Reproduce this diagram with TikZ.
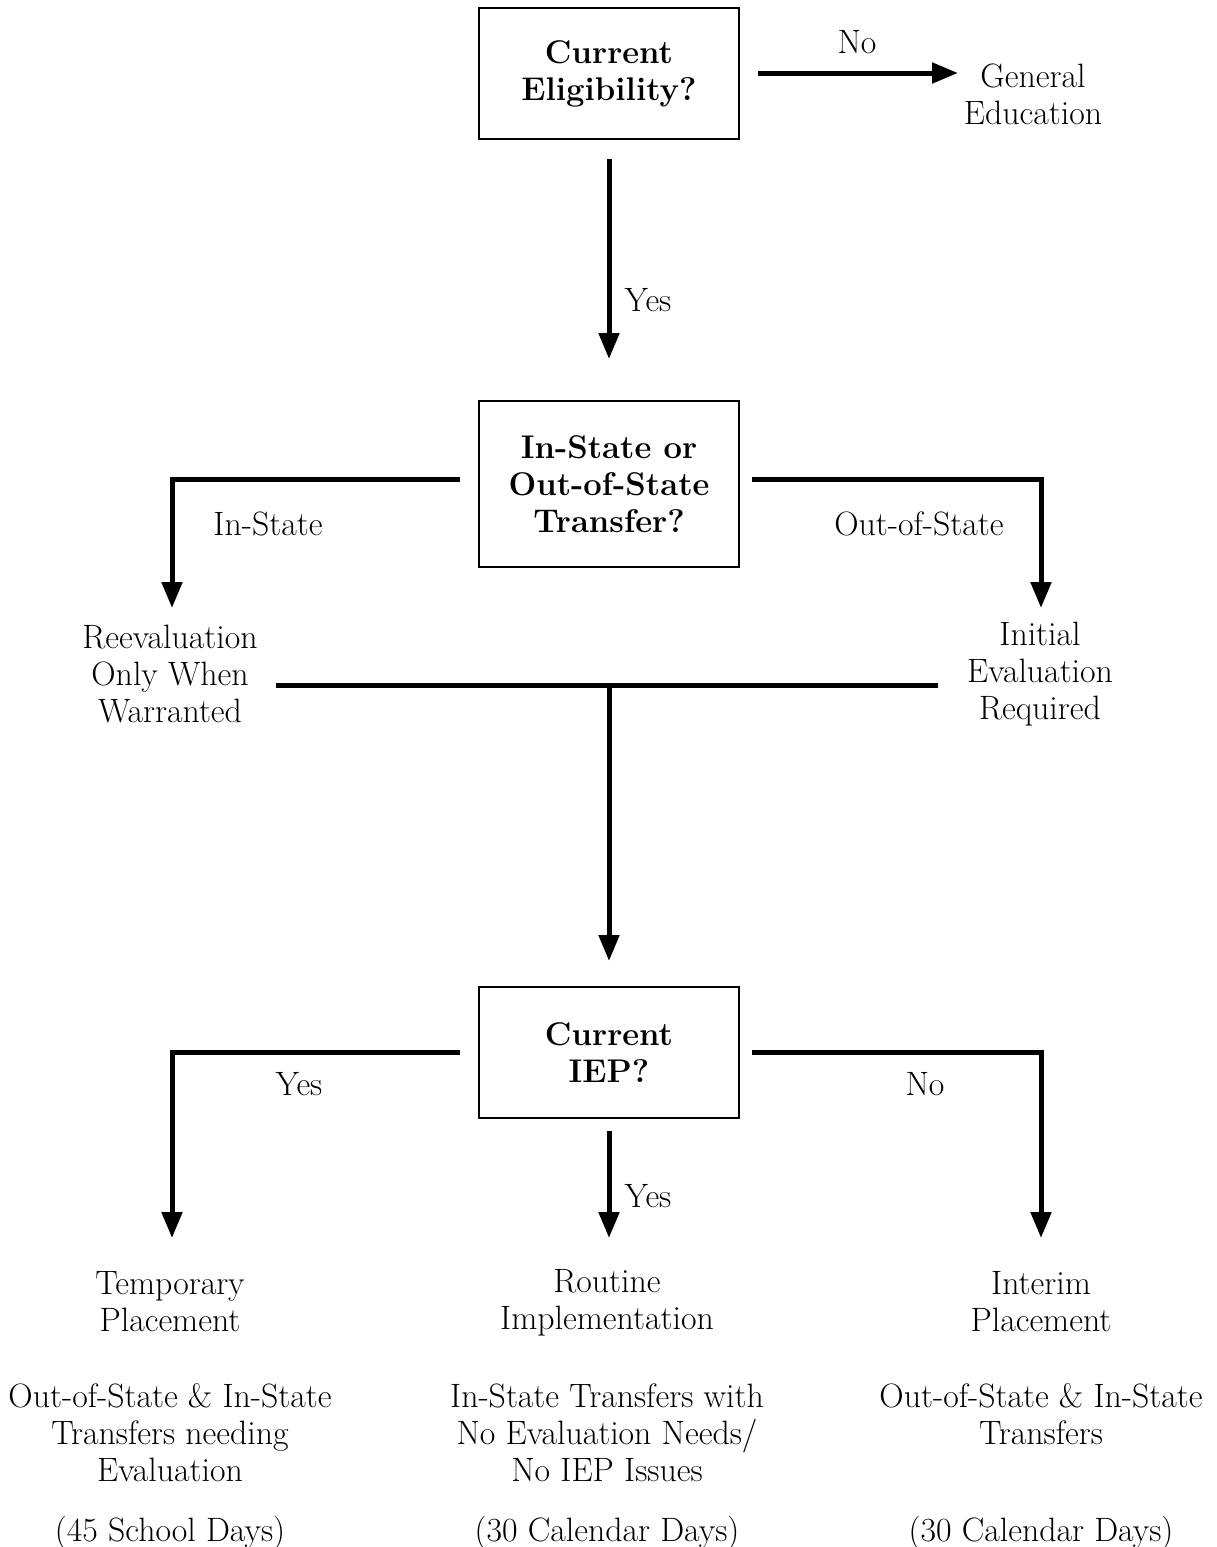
\documentclass[tikz,border=0pt]{standalone}
\usetikzlibrary{arrows.meta}
\begin{document}
\begin{tikzpicture}[x=0.5pt,y=-0.5pt,
  txt/.style={align=center,inner sep=0pt,font=\fontsize{16.9}{18.5}\selectfont},
  qbox/.style={draw,line width=1pt,minimum width=130pt,minimum height=65.5pt,align=center,inner sep=0pt,font=\fontsize{16.4}{18.5}\selectfont\bfseries},
  arr/.style={line width=2.5pt,-{Triangle[length=13pt,width=10pt]}},
  bar/.style={line width=2.5pt}]
\useasboundingbox (0,0) rectangle (1216,1547);
% boxes
\node[qbox] (b1) at (609,73.5) {Current\\Eligibility?};
\node[qbox,minimum height=83pt] (b2) at (609,484) {In-State or\\Out-of-State\\Transfer?};
\node[qbox] (b3) at (609,1052.5) {Current\\IEP?};
% outcomes
\node[txt] (gen) at (1033,94) {General\\Education};
\node[txt] (reeval) at (170,674) {Reevaluation\\Only When\\Warranted};
\node[txt] (init) at (1040,674) {Initial\\Evaluation\\Required};
\node[txt] (temp) at (170,1302) {Temporary\\Placement};
\node[txt] (tempd) at (170,1433) {Out-of-State \& In-State\\Transfers needing\\Evaluation};
\node[txt] (tempt) at (170,1533) {(45 School Days)};
\node[txt] (rout) at (607,1303) {Routine\\Implementation};
\node[txt] (routd) at (607,1433) {In-State Transfers with\\No Evaluation Needs/\\No IEP Issues};
\node[txt] (routt) at (607,1533) {(30 Calendar Days)};
\node[txt] (inter) at (1041,1302) {Interim\\Placement};
\node[txt] (interd) at (1041,1414) {Out-of-State \& In-State\\Transfers};
\node[txt] (intert) at (1041,1533) {(30 Calendar Days)};
% labels
\node[txt] (lno1) at (857,42) {No};
\node[txt] (lyes1) at (648,300) {Yes};
\node[txt] (lin) at (268,524) {In-State};
\node[txt] (lout) at (919,524) {Out-of-State};
\node[txt] (lyes2) at (299,1084) {Yes};
\node[txt] (lno2) at (925,1084) {No};
\node[txt] (lyes3) at (648,1196) {Yes};
% coordinates
\coordinate (t1) at (172,608);
\coordinate (t2) at (1041,608);
\coordinate (bl) at (276,685);
\coordinate (br) at (938,685);
\coordinate (bm) at (609,685);
\coordinate (t3) at (172,1238);
\coordinate (t4) at (1041,1238);
\coordinate (t5) at (609,1238);
\coordinate (g) at (958,73);
% connectors
\draw[arr,shorten <=9pt] (b1.east |- g) -- (g);
\draw[arr,shorten <=9.5pt,shorten >=20.5pt] (b1.south) -- (b2.north);
\draw[arr,shorten <=9pt] ([yshift=2.5pt]b2.west) -| (t1);
\draw[arr,shorten <=6pt] ([yshift=2.5pt]b2.east) -| (t2);
\draw[bar] (bl) -- (br);
\draw[arr,shorten >=12.5pt] (bm) -- (b3.north);
\draw[arr,shorten <=9pt] (b3.west) -| (t3);
\draw[arr,shorten <=6pt] (b3.east) -| (t4);
\draw[arr,shorten <=6pt] (b3.south) -- (t5);
\end{tikzpicture}
\end{document}
